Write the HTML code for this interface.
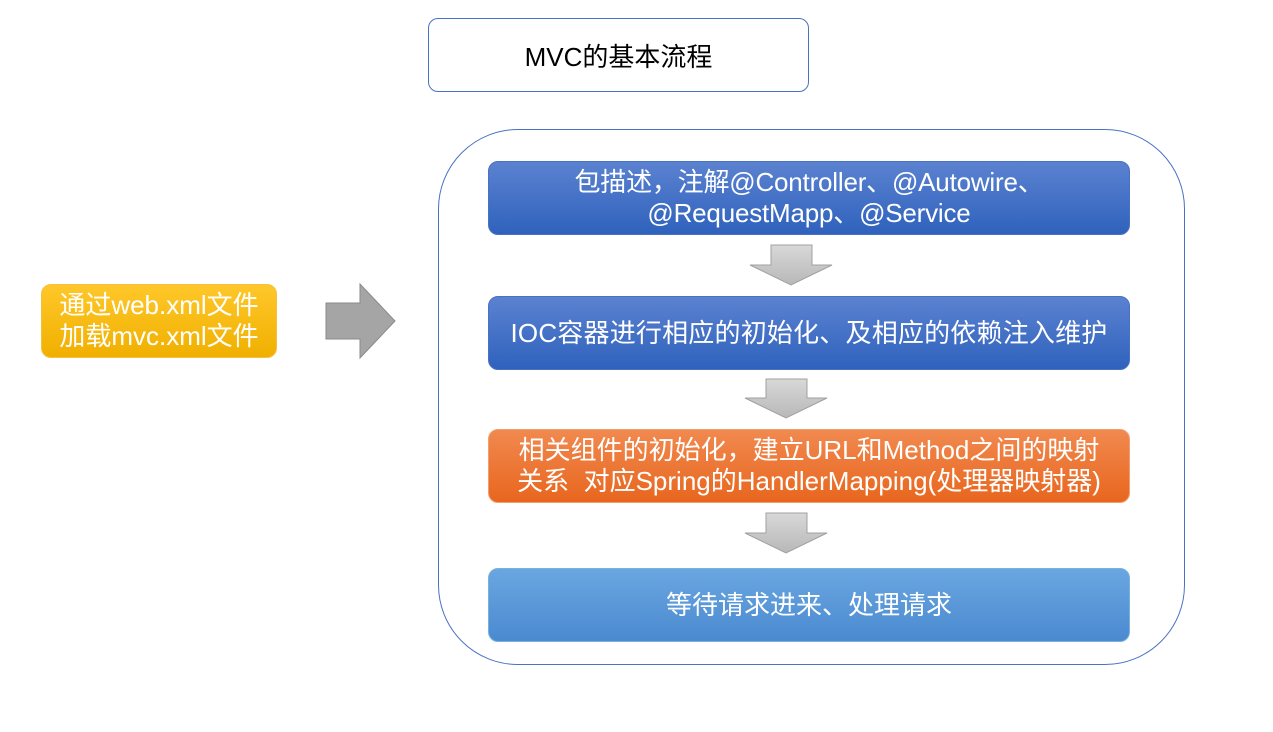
<!DOCTYPE html>
<html><head><meta charset="utf-8"><style>
body{margin:0;width:1273px;height:732px;background:#fff;position:relative;overflow:hidden;font-family:"Liberation Sans","Noto Sans CJK SC",sans-serif}
.a{position:absolute;box-sizing:border-box;display:flex;align-items:center;justify-content:center;text-align:center}
.b{border-radius:10px;color:#fff;font-size:26px;line-height:31px;letter-spacing:0px;white-space:nowrap}
.blue{background:linear-gradient(#5b82d0,#2f62bd);border:1px solid #4a72c4}
</style></head><body>
<div class="a" style="left:428px;top:18px;width:381px;height:74px;border:1px solid #4a72c4;border-radius:10px;font-size:26px;color:#000">MVC的基本流程</div>
<div class="a" style="left:438px;top:129px;width:747px;height:536px;border:1px solid #4a72c4;border-radius:80px"></div>
<div class="a b" style="left:41px;top:284px;width:236px;height:74px;background:linear-gradient(#ffc72a,#f0b000);border:1px solid #f5c040;letter-spacing:0">通过web.xml文件<br>加载mvc.xml文件</div>
<svg style="position:absolute;left:0;top:0" width="1273" height="732">
<defs><linearGradient id="g" x1="0" y1="0" x2="0" y2="1"><stop offset="0" stop-color="#d8d8d8"/><stop offset="1" stop-color="#b8b8b8"/></linearGradient></defs>
<polygon points="326,303 360,303 360,284 395,321 360,358 360,339 326,339" fill="#a5a5a5" stroke="#8a8a8a"/>
<polygon points="771,245 812,245 812,265 832,265 791,285 750,265 771,265" fill="url(#g)" stroke="#a0a0a0"/>
<polygon points="766,379 807,379 807,398 827,398 786,418 745,398 766,398" fill="url(#g)" stroke="#a0a0a0"/>
<polygon points="766,513 807,513 807,533 827,533 786,553 745,533 766,533" fill="url(#g)" stroke="#a0a0a0"/>
</svg>
<div class="a b blue" style="left:488px;top:161px;width:642px;height:74px;letter-spacing:-0.2px">包描述，注解@Controller、@Autowire、<br>@RequestMapp、@Service</div>
<div class="a b blue" style="left:488px;top:296px;width:642px;height:74px;letter-spacing:0.2px">IOC容器进行相应的初始化、及相应的依赖注入维护</div>
<div class="a b" style="left:488px;top:429px;width:642px;height:74px;background:linear-gradient(#f1894f,#e8661e);border:1px solid #f0a070;letter-spacing:0">相关组件的初始化，建立URL和Method之间的映射<br>关系&nbsp; 对应Spring的HandlerMapping(处理器映射器)</div>
<div class="a b" style="left:488px;top:568px;width:642px;height:74px;background:linear-gradient(#6aa6e0,#4a8ad0);border:1px solid #7ab0e0">等待请求进来、处理请求</div>
</body></html>
